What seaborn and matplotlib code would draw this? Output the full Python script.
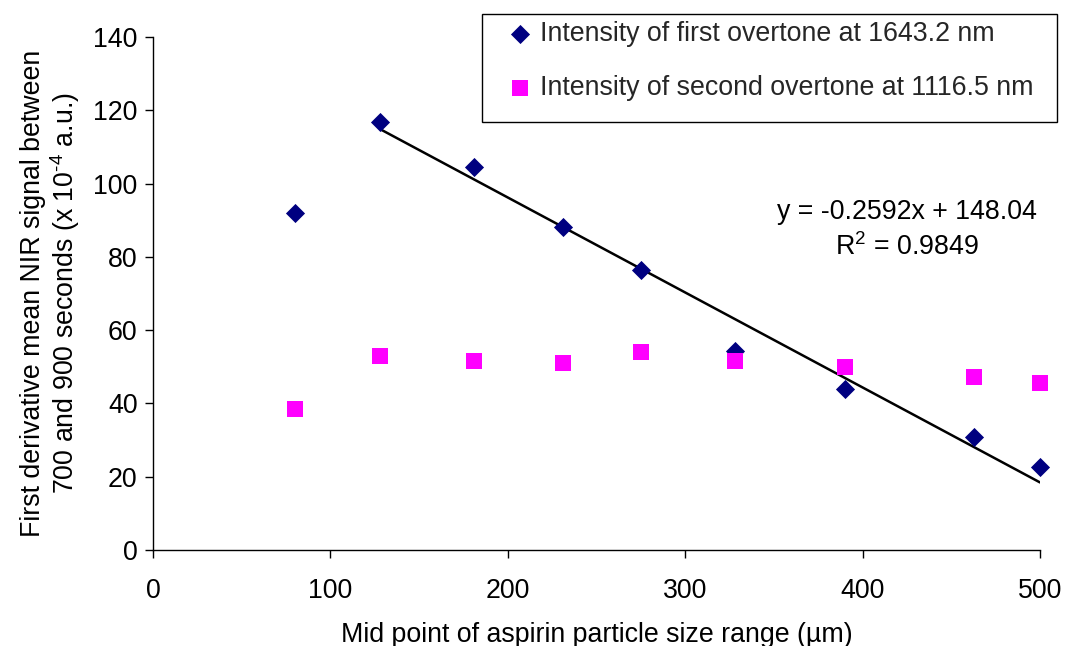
import numpy as np
import pandas as pd
import matplotlib
matplotlib.use("Agg")
import matplotlib.pyplot as plt
from matplotlib.patches import Rectangle
import seaborn as sns

# Data
particle_size = [80, 128, 181, 231, 275, 328, 390, 463, 500]
first_overtone = [92.0, 116.8, 104.5, 88.2, 76.4, 54.3, 43.9, 30.8, 22.6]
second_overtone = [38.5, 52.9, 51.6, 51.0, 54.0, 51.6, 49.9, 47.2, 45.6]
fit_slope = -0.2592
fit_intercept = 148.04
fit_r2 = 0.9849
fit_range = [128, 500]

label_first = "Intensity of first overtone at 1643.2 nm"
label_second = "Intensity of second overtone at 1116.5 nm"

sns.set_theme(style="white")
plt.rcParams['font.family'] = ['Liberation Sans', 'DejaVu Sans']
plt.rcParams['mathtext.fontset'] = 'custom'
plt.rcParams['mathtext.rm'] = 'Liberation Sans'
plt.rcParams['mathtext.it'] = 'Liberation Sans:italic'
plt.rcParams['mathtext.bf'] = 'Liberation Sans:bold'

FS = 19.3
W, H = 1065, 646

fig = plt.figure(figsize=(W/100, H/100), dpi=100)
ax = fig.add_axes([153/W, 96/H, (1040-153)/W, (550-37)/H])

df = pd.DataFrame({"x": particle_size, "first": first_overtone, "second": second_overtone})

sns.scatterplot(data=df, x="x", y="first", ax=ax, marker="D", s=95, color="#000080",
                edgecolor="#000080", linewidth=0, label=label_first, zorder=3, clip_on=False)
sns.scatterplot(data=df, x="x", y="second", ax=ax, marker="s", s=130, color="#FF00FF",
                edgecolor="#FF00FF", linewidth=0, label=label_second, zorder=3, clip_on=False)

fx = np.array(fit_range, dtype=float)
fy = fit_slope * fx + fit_intercept
ax.plot(fx, fy, color="black", linewidth=1.8, zorder=2)

ax.set_xlim(0, 500)
ax.set_ylim(0, 140)
ax.set_xticks(range(0, 501, 100))
ax.set_yticks(range(0, 141, 20))
for s in ["top", "right"]:
    ax.spines[s].set_visible(False)
for s in ["left", "bottom"]:
    ax.spines[s].set_color("black")
    ax.spines[s].set_linewidth(1.0)
ax.tick_params(axis="both", which="major", direction="out", length=6, width=1,
               color="black", labelsize=FS, labelcolor="black", bottom=True, left=True)
ax.tick_params(axis="x", pad=14)
ax.tick_params(axis="y", pad=5)

ax.set_xlabel("Mid point of aspirin particle size range (µm)", fontsize=FS, color="black", labelpad=13)
ax.set_ylabel("First derivative mean NIR signal between\n700 and 900 seconds (x 10$^{\\text{-4}}$ a.u.)",
              fontsize=FS, color="black", labelpad=8, linespacing=1.1)

eq = f"y = {fit_slope:.4f}x + {fit_intercept:.2f}\nR$^2$ = {fit_r2:.4f}"
ax.text(907/W, 1 - 230/H, eq, transform=fig.transFigure, ha="center", va="center",
        fontsize=FS, color="black", linespacing=1.35)

# legend frame
ax.add_patch(Rectangle((482/W, 1 - 122/H), (1057-482)/W, (122-14)/H,
                       transform=fig.transFigure, fill=True, facecolor="white",
                       edgecolor="black", linewidth=1.0, zorder=5, clip_on=False))

leg = ax.legend(loc="upper left", bbox_to_anchor=(509/W, 1 - 21/H),
                bbox_transform=fig.transFigure, frameon=False,
                fontsize=FS, handletextpad=0.35, labelspacing=1.05, borderpad=0,
                handlelength=0.8, borderaxespad=0)
leg.set_zorder(6)

fig.savefig("out.png", dpi=100)
